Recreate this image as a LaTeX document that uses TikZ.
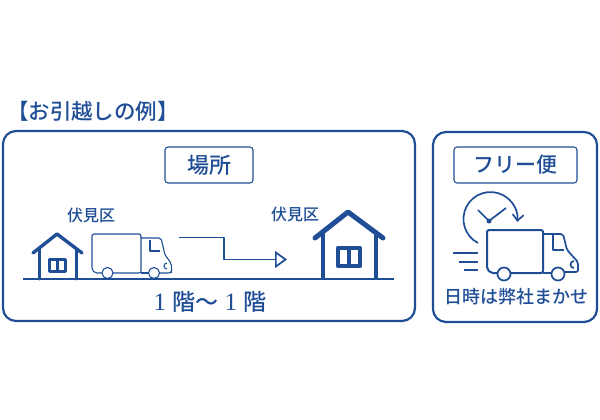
\documentclass[tikz,border=0pt]{standalone}
\usepackage{fontspec}
\setmainfont{Liberation Serif}
\newfontfamily\cjk{Noto Sans CJK JP Medium}
\usetikzlibrary {arrows.meta, positioning}

\definecolor{movblue}{HTML}{1F4E96}

\begin{document}
\begin{tikzpicture}[
    x=1pt,
    y=-1pt,
    line join=round,
    every node/.style={text=movblue, inner sep=0pt},
    panel/.style={draw=movblue, line width=2.2pt, rounded corners=13pt},
    tagbox/.style={draw=movblue, line width=1.1pt, rounded corners=3pt},
    thin line/.style={draw=movblue, line width=1.1pt},
    mid line/.style={draw=movblue, line width=1.7pt},
    house line/.style={draw=movblue, line width=3pt, line cap=round},
]

    \useasboundingbox (0,0) rectangle (600,420);

    \node[font=\cjk\fontsize{21.5}{21.5}\selectfont] (title) at (93, 111) {【お引越しの例】};

    \draw[panel] (3, 131) rectangle (415, 321);
    \draw[panel] (433, 132) rectangle (597, 322);

    \node[tagbox, minimum width=88pt, minimum height=36pt, font=\cjk\fontsize{22}{22}\selectfont] (place) at (209, 165) {場所};
    \node[tagbox, minimum width=123pt, minimum height=36pt, font=\cjk\fontsize{21}{21}\selectfont] (free) at (515.5, 165) {フリー便};

    \node[font=\cjk\fontsize{16}{16}\selectfont] (fromlabel) at (91, 215) {伏見区};
    \node[font=\cjk\fontsize{16}{16}\selectfont] (tolabel) at (295, 214) {伏見区};

    % ground
    \draw[mid line, line width=2pt] (23, 279) -- (394, 279);

    % small house
    \draw[house line, line width=3.4pt] (33, 253) -- (57, 234) -- (82, 253);
    \draw[house line] (39, 249) -- (39, 279);
    \draw[house line] (76, 249) -- (76, 279);
    \draw[draw=movblue, line width=3.2pt] (49.5, 259.5) rectangle (65.5, 271.5);
    \draw[draw=movblue, line width=2.4pt] (57.5, 259) -- (57.5, 272);

    % first truck
    \draw[thin line, rounded corners=2pt] (102, 273) -- (95, 273) -- (92, 270) -- (92, 234) -- (141, 234) -- (141, 273) -- (113, 273);
    \draw[thin line, rounded corners=2pt] (141, 238) -- (161, 238) -- (165, 255) -- (171, 263) -- (172, 272) -- (170, 273) -- (160, 273);
    \draw[thin line] (141, 273) -- (148, 273);
    \draw[thin line] (150, 240) -- (150, 251) -- (160, 251);
    \draw[thin line] (167, 263) arc[start angle=-90, end angle=-270, radius=3];
    \node[thin line, circle, fill=white, minimum size=11pt] (wheela) at (107.5, 273) {};
    \node[thin line, circle, fill=white, minimum size=11pt] (wheelb) at (154, 273) {};

    % route arrow
    \coordinate (routestart) at (179, 237.5);
    \coordinate (routeend) at (287, 259.5);
    \draw[mid line, -{Triangle[open, length=12pt, width=17pt]}] (routestart) -| (224, 259.5) -- (routeend);

    % big house
    \draw[house line, line width=5pt] (315, 238) -- (348, 212) -- (383, 238);
    \draw[house line, line width=4pt] (323, 232) -- (323, 277);
    \draw[house line, line width=4pt] (376, 232) -- (376, 277);
    \draw[draw=movblue, line width=4.4pt] (338, 248) rectangle (360, 266);
    \draw[draw=movblue, line width=3.4pt] (349, 248) -- (349, 266);

    \node[font=\fontsize{25}{25}\selectfont] (floors) at (210, 302) {1 {\cjk\fontsize{23}{23}\selectfont 階〜} 1 {\cjk\fontsize{23}{23}\selectfont 階}};

    % clock
    \coordinate (clockhub) at (489, 221);
    \draw[mid line, -{Straight Barb[length=6pt, width=11pt]}] (478, 243) arc[start angle=117.5, end angle=366, radius=27];
    \draw[mid line] (478, 210) -- (clockhub) -- (506, 208);
    \fill[movblue] (clockhub) circle (2.5pt);

    % second truck
    \draw[mid line, line width=2pt, rounded corners=2pt] (497, 273) -- (491, 273) -- (487, 269) -- (487, 230) -- (543, 230) -- (543, 273) -- (511, 273);
    \draw[mid line, rounded corners=2pt] (543, 234) -- (563, 234) -- (567, 250) -- (578, 262) -- (578, 272) -- (565, 272);
    \draw[mid line] (543, 273) -- (551, 273);
    \draw[mid line] (553, 235) -- (553, 250) -- (564, 250);
    \draw[mid line] (574, 261) arc[start angle=-90, end angle=-270, radius=3.5];
    \node[mid line, circle, fill=white, minimum size=13pt] (wheelc) at (504, 274) {};
    \node[mid line, circle, fill=white, minimum size=13pt] (wheeld) at (558, 274) {};

    % speed lines
    \draw[mid line] (453, 253) -- (478, 253);
    \draw[mid line] (459, 262) -- (478, 262);
    \draw[mid line] (464, 270) -- (478, 270);

    \node[font=\cjk\fontsize{18}{18}\selectfont] (caption) at (516, 297) {日時は弊社まかせ};

\end{tikzpicture}
\end{document}
